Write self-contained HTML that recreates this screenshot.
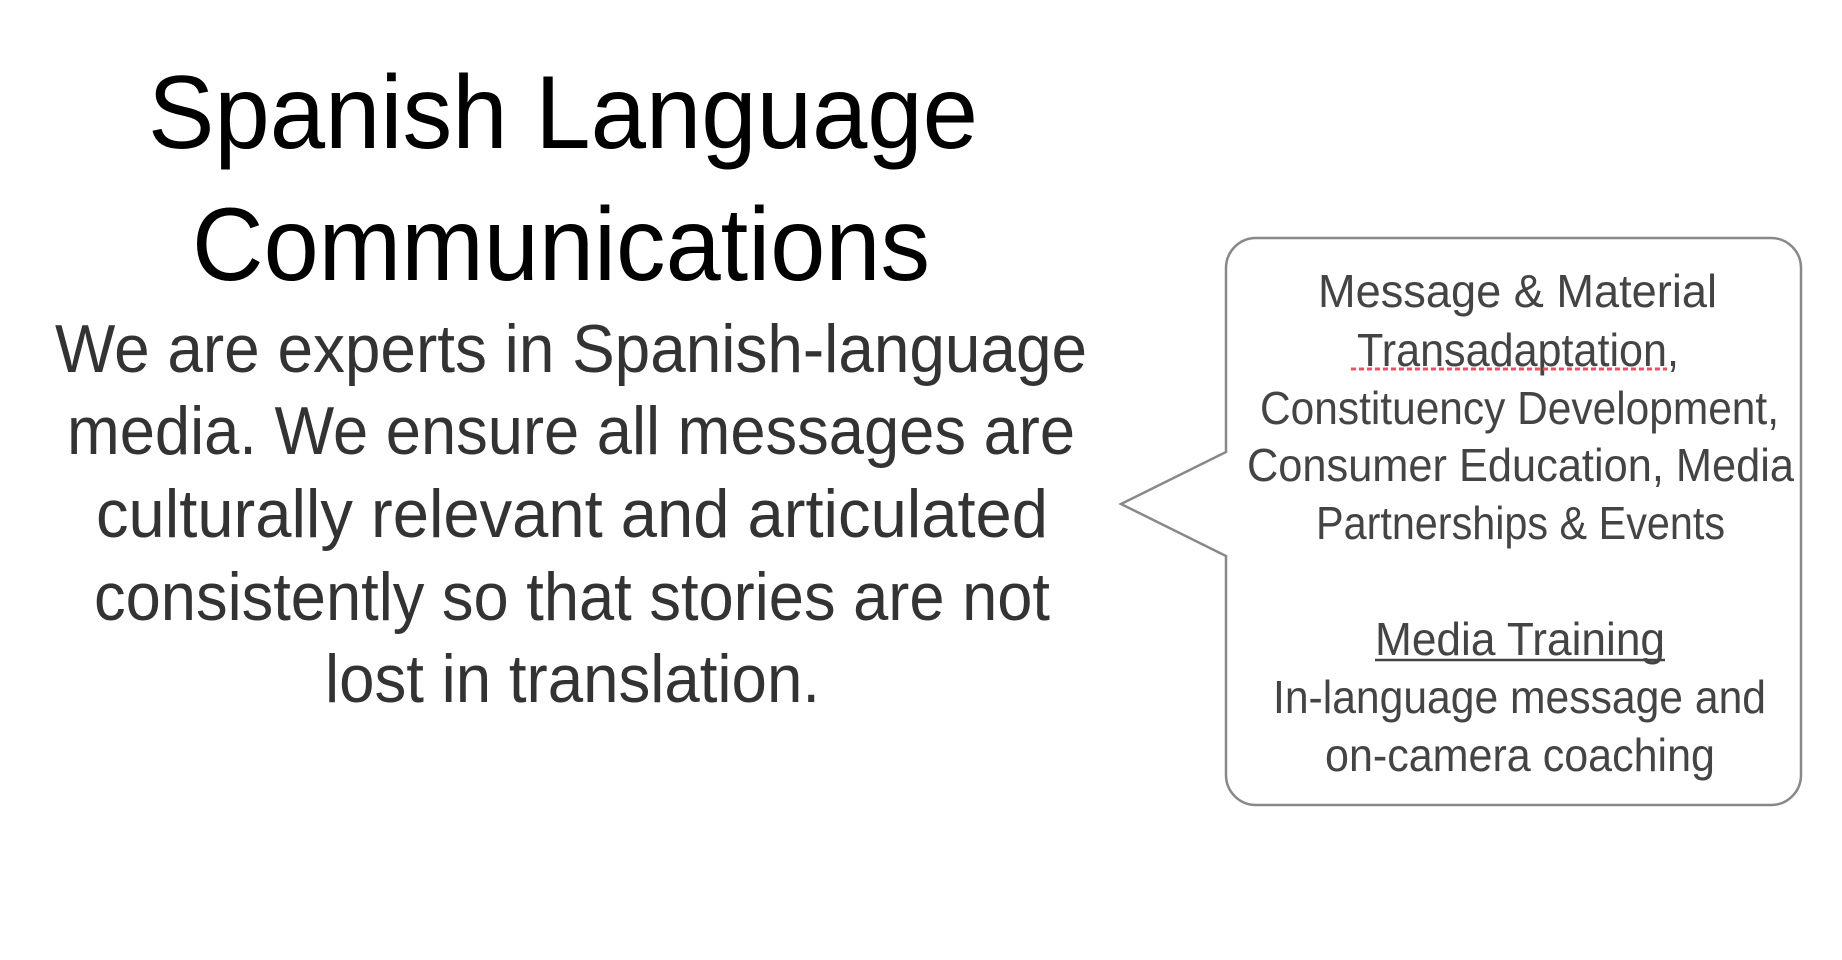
<!DOCTYPE html>
<html><head><meta charset="utf-8"><style>
html,body{margin:0;padding:0;background:#fff;width:1842px;height:960px;overflow:hidden}
svg text{font-family:"Liberation Sans",sans-serif}
</style></head><body>
<svg width="1842" height="960" viewBox="0 0 1842 960">
<g fill="#000" font-size="104">
<text x="148" y="148" textLength="830" lengthAdjust="spacingAndGlyphs">Spanish Language</text>
<text x="192" y="280" textLength="738" lengthAdjust="spacingAndGlyphs">Communications</text>
</g>
<g fill="#333" font-size="68">
<text x="55" y="372" textLength="1032" lengthAdjust="spacingAndGlyphs">We are experts in Spanish-language</text>
<text x="67" y="454" textLength="1008" lengthAdjust="spacingAndGlyphs">media. We ensure all messages are</text>
<text x="96" y="537" textLength="952" lengthAdjust="spacingAndGlyphs">culturally relevant and articulated</text>
<text x="94" y="620" textLength="956" lengthAdjust="spacingAndGlyphs">consistently so that stories are not</text>
<text x="325" y="702" textLength="495" lengthAdjust="spacingAndGlyphs">lost in translation.</text>
</g>
<path d="M1256,238 H1771 A30,30 0 0 1 1801,268 V775 A30,30 0 0 1 1771,805 H1256 A30,30 0 0 1 1226,775 V556 L1121,504 L1226,452 V268 A30,30 0 0 1 1256,238 Z" fill="#fff" stroke="#888" stroke-width="2.5"/>
<g fill="#444" font-size="46">
<text x="1318" y="307" textLength="399" lengthAdjust="spacingAndGlyphs">Message &amp; Material</text>
<text x="1357" y="366" textLength="322" lengthAdjust="spacingAndGlyphs">Transadaptation,</text>
<text x="1260" y="424" textLength="519" lengthAdjust="spacingAndGlyphs">Constituency Development,</text>
<text x="1247" y="481" textLength="547" lengthAdjust="spacingAndGlyphs">Consumer Education, Media</text>
<text x="1316" y="539" textLength="409" lengthAdjust="spacingAndGlyphs">Partnerships &amp; Events</text>
<text x="1375" y="655" textLength="290" lengthAdjust="spacingAndGlyphs">Media Training</text>
<text x="1273" y="713" textLength="493" lengthAdjust="spacingAndGlyphs">In-language message and</text>
<text x="1325" y="771" textLength="390" lengthAdjust="spacingAndGlyphs">on-camera coaching</text>
</g>
<line x1="1351" y1="369" x2="1667" y2="369" stroke="#f05060" stroke-width="3" stroke-dasharray="5,3"/>
<line x1="1375" y1="660" x2="1665" y2="660" stroke="#444" stroke-width="2.5"/>
</svg>
</body></html>
